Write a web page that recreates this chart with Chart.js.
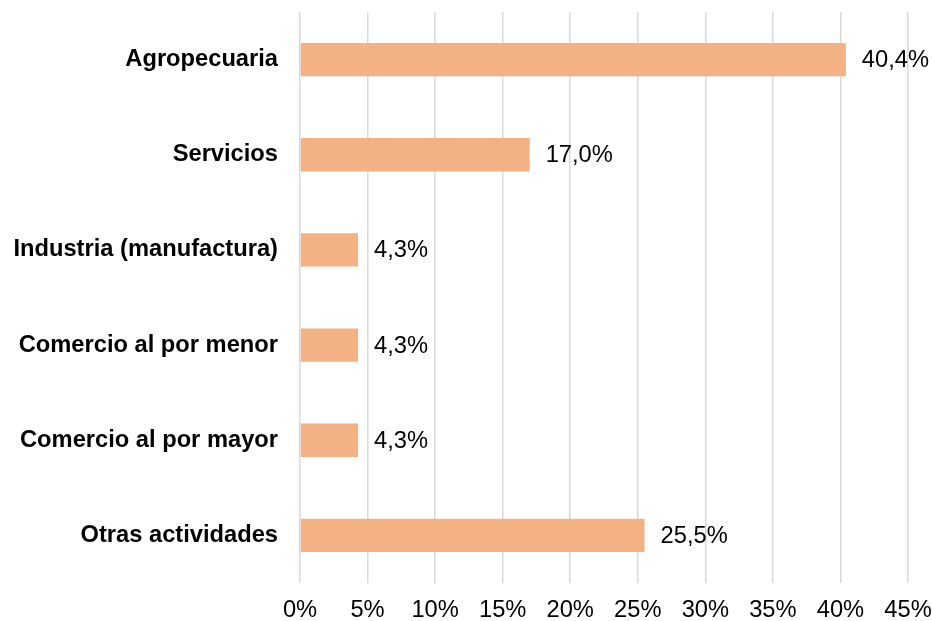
<!DOCTYPE html>
<html>
<head>
<meta charset="utf-8">
<script src="https://cdn.jsdelivr.net/npm/chart.js@4"></script>
<style>
    html, body { margin: 0; padding: 0; background: #fff; }
    #wrap { width: 932px; height: 621px; }
</style>
</head>
<body>
<div id="wrap"><canvas id="chart" width="932" height="621"></canvas></div>
<script>
// Data
const categories = ['Agropecuaria', 'Servicios', 'Industria (manufactura)', 'Comercio al por menor', 'Comercio al por mayor', 'Otras actividades'];
const values = [40.4, 17.0, 4.3, 4.3, 4.3, 25.5];
const tickValues = [0, 5, 10, 15, 20, 25, 30, 35, 40, 45];

const FONT = "'Liberation Sans', Arial, sans-serif";
const SIZE = 23.7;

// value labels at the end of each bar
const barLabels = {
    id: 'barLabels',
    afterDatasetsDraw(chart) {
        const ctx = chart.ctx;
        const meta = chart.getDatasetMeta(0);
        ctx.save();
        ctx.font = SIZE + 'px ' + FONT;
        ctx.fillStyle = '#000';
        ctx.textAlign = 'left';
        ctx.textBaseline = 'middle';
        meta.data.forEach((bar, i) => {
            const txt = values[i].toFixed(1).replace('.', ',') + '%';
            ctx.fillText(txt, bar.x + 16, bar.y + 1);
        });
        ctx.restore();
    }
};

new Chart(document.getElementById('chart').getContext('2d'), {
    type: 'bar',
    data: {
        labels: categories,
        datasets: [{
            data: values,
            backgroundColor: '#F4B183',
            borderWidth: 0,
            categoryPercentage: 1,
            barPercentage: 0.35
        }]
    },
    options: {
        indexAxis: 'y',
        responsive: false,
        animation: false,
        layout: { padding: { top: 12, right: 24, left: 0, bottom: 0 } },
        plugins: {
            legend: { display: false },
            tooltip: { enabled: false }
        },
        scales: {
            x: {
                min: 0,
                max: 45,
                afterBuildTicks: scale => {
                    scale.ticks = tickValues.map(v => ({ value: v }));
                },
                afterFit: scale => {
                    scale.height = 38;
                    scale.paddingLeft = 0;
                    scale.paddingRight = 0;
                },
                grid: { color: '#d9d9d9', lineWidth: 1.5, drawTicks: false },
                border: { display: false },
                ticks: {
                    padding: 13,
                    color: '#000',
                    font: { family: FONT, size: SIZE },
                    callback: v => v + '%'
                }
            },
            y: {
                afterFit: scale => {
                    scale.width = 300;
                    scale.paddingTop = 0;
                    scale.paddingBottom = 0;
                },
                grid: { display: false, drawTicks: false },
                border: { display: false },
                ticks: {
                    padding: 22,
                    color: '#000',
                    font: { family: FONT, size: SIZE, weight: 'bold' }
                }
            }
        }
    },
    plugins: [barLabels]
});
</script>
</body>
</html>
